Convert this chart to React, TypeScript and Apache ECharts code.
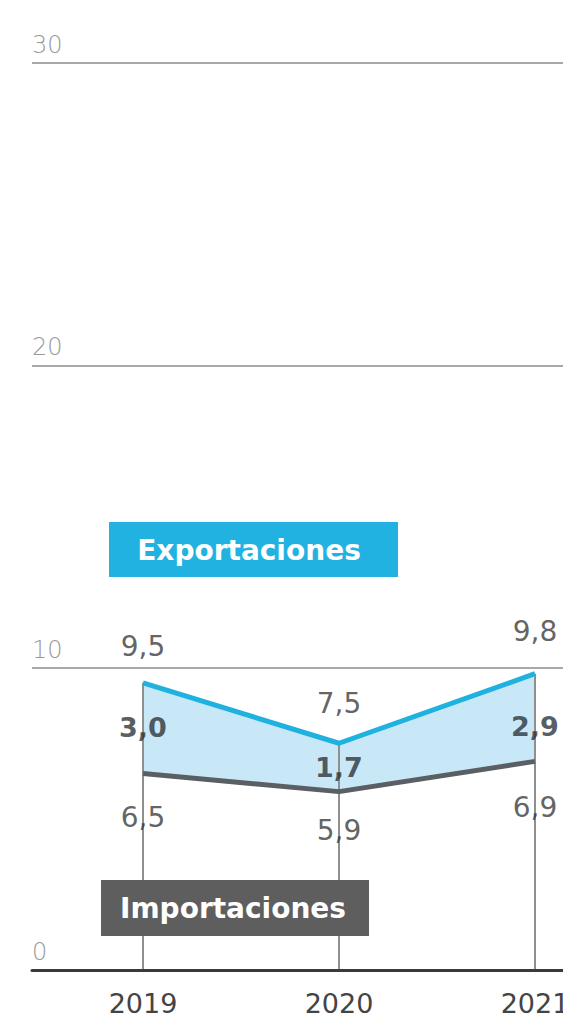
import React, { useEffect, useRef } from "react";
import * as echarts from "echarts";

const years = ["2019", "2020", "2021"];
const exportaciones = [9.5, 7.5, 9.8];
const importaciones = [6.5, 5.9, 6.9];
const saldo = [3.0, 1.7, 2.9];
const yMin = 0;
const yMax = 30;
const yStep = 10;

// label offsets (px), style only
const exportLabelDy = [-36, -40, -42];
const importLabelDy = [44, 39, 46];
const saldoLabelDy = [-46, -24, -35];

const FONT = "DejaVu Sans";
const fmt = (v: number) => v.toFixed(1).replace(".", ",");

export default function App() {
  const ref = useRef<HTMLDivElement>(null);
  useEffect(() => {
    if (!ref.current) return;
    const chart = echarts.init(ref.current, undefined, { renderer: "svg" });
    const top = 63;
    const bottom = 51;
    const labelSeries = (vals: number[], dys: number[], texts: number[], bold: boolean, color: string) => ({
      type: "scatter",
      xAxisIndex: 1,
      yAxisIndex: 1,
      symbolSize: 2,
      itemStyle: { color: "rgba(0,0,0,0)" },
      z: 6,
      silent: true,
      data: vals.map((v, i) => ({
        value: v,
        label: { offset: [0, dys[i]] },
      })),
      label: {
        show: true,
        position: "inside",
        align: "center",
        verticalAlign: "middle",
        fontFamily: FONT,
        fontSize: bold ? 27 : 28,
        fontWeight: bold ? "bold" : "normal",
        color,
        formatter: (p: any) => fmt(texts[p.dataIndex]),
      },
    });
    const option: any = {
      animation: false,
      backgroundColor: "#ffffff",
      grid: [
        { left: 32, right: 0, top, bottom, outerBoundsMode: "none", containLabel: false },
        { left: 143, right: 28, top, bottom, outerBoundsMode: "none", containLabel: false },
      ],
      xAxis: [
        {
          gridIndex: 0,
          type: "value",
          min: 0,
          max: 1,
          z: 10,
          axisLine: { show: true, lineStyle: { color: "#3a3a3a", width: 3 } },
          axisTick: { show: false },
          axisLabel: { show: false },
          splitLine: { show: false },
        },
        {
          gridIndex: 1,
          type: "category",
          data: years,
          boundaryGap: false,
          axisLine: { show: false },
          axisTick: { show: false },
          splitLine: { show: false },
          axisLabel: {
            color: "#444444",
            fontFamily: FONT,
            fontSize: 27,
            margin: 20,
            hideOverlap: false,
          },
        },
      ],
      yAxis: [
        {
          gridIndex: 0,
          type: "value",
          min: yMin,
          max: yMax,
          interval: yStep,
          axisLine: { show: false },
          axisTick: { show: false },
          splitLine: { show: true, lineStyle: { color: "#a8a8a8", width: 2 } },
          axisLabel: {
            inside: true,
            margin: 0,
            align: "left",
            verticalAlign: "bottom",
            padding: [0, 0, 6, 0],
            color: "#9a9a9a",
            fontFamily: FONT,
            fontWeight: 300,
            fontSize: 24,
          },
        },
        {
          gridIndex: 1,
          type: "value",
          min: yMin,
          max: yMax,
          interval: yStep,
          show: false,
          splitLine: { show: false },
        },
      ],
      series: [
        {
          type: "line",
          xAxisIndex: 1,
          yAxisIndex: 1,
          data: exportaciones,
          symbol: "none",
          lineStyle: { width: 0 },
          areaStyle: { color: "#c8e8f7", opacity: 1 },
          z: 1,
          silent: true,
        },
        {
          type: "line",
          xAxisIndex: 1,
          yAxisIndex: 1,
          data: importaciones,
          symbol: "none",
          lineStyle: { width: 0 },
          areaStyle: { color: "#ffffff", opacity: 1 },
          z: 2,
          silent: true,
        },
        {
          type: "bar",
          xAxisIndex: 1,
          yAxisIndex: 1,
          data: exportaciones,
          barWidth: 2,
          itemStyle: { color: "#8f8f8f" },
          z: 3,
          silent: true,
        },
        {
          type: "line",
          xAxisIndex: 1,
          yAxisIndex: 1,
          data: exportaciones,
          symbol: "none",
          lineStyle: { color: "#1fb1df", width: 5 },
          z: 4,
        },
        {
          type: "line",
          xAxisIndex: 1,
          yAxisIndex: 1,
          data: importaciones,
          symbol: "none",
          lineStyle: { color: "#5a5f63", width: 5 },
          z: 4,
        },
        labelSeries(exportaciones, exportLabelDy, exportaciones, false, "#3a3a3a"),
        labelSeries(importaciones, importLabelDy, importaciones, false, "#3a3a3a"),
        labelSeries(importaciones, saldoLabelDy, saldo, true, "#2b3338"),
      ],
      graphic: [
        {
          type: "rect",
          shape: { x: 109, y: 522, width: 289, height: 55 },
          style: { fill: "#22b2e2" },
          z: 20,
        },
        {
          type: "text",
          x: 249,
          y: 550,
          z: 21,
          style: {
            text: "Exportaciones",
            fill: "#ffffff",
            font: `bold 28px "${FONT}"`,
            textAlign: "center",
            textVerticalAlign: "middle",
          },
        },
        {
          type: "rect",
          shape: { x: 101, y: 880, width: 268, height: 56 },
          style: { fill: "#5e5e5e" },
          z: 20,
        },
        {
          type: "text",
          x: 233,
          y: 908,
          z: 21,
          style: {
            text: "Importaciones",
            fill: "#ffffff",
            font: `bold 28px "${FONT}"`,
            textAlign: "center",
            textVerticalAlign: "middle",
          },
        },
      ],
    };
    chart.setOption(option);
    return () => chart.dispose();
  }, []);
  return (
    <div
      ref={ref}
      style={{ position: "fixed", left: 0, top: 0, width: 563, height: 1021, background: "#fff" }}
    />
  );
}
